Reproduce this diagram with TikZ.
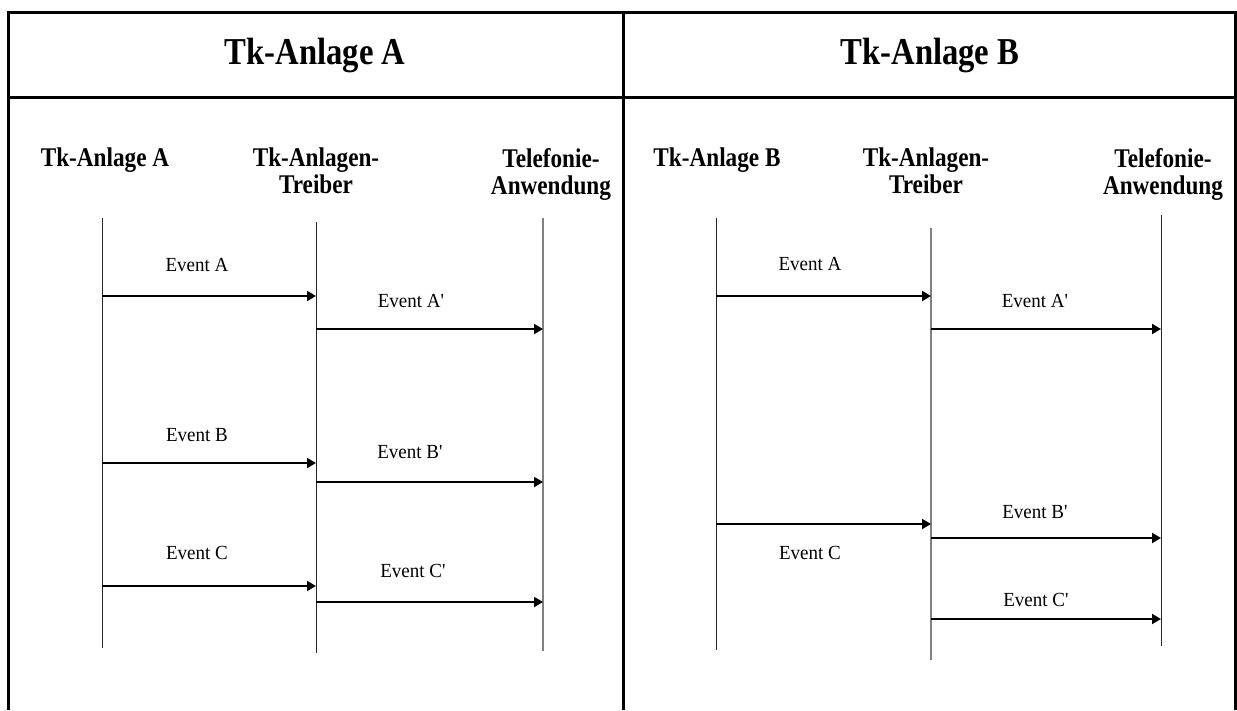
\documentclass[tikz,border=0pt]{standalone}
\usepackage{fontspec}
\setmainfont{Liberation Serif}
\newfontfamily\headfont{Liberation Serif}[FakeStretch=0.86]
\newfontfamily\eventfont{Liberation Serif}[FakeStretch=0.95]
\usetikzlibrary{arrows.meta}

\begin{document}
\begin{tikzpicture}[x=1pt,y=-1pt,
  frame/.style={line width=3pt},
  lifeline/.style={line width=1pt, draw=black!85},
  lifegray/.style={line width=1.8pt, draw=black!50},
  msg/.style={line width=2pt, -{Triangle[length=9pt,width=10pt]}},
  evlabel/.style={font=\eventfont\fontsize{20}{22}\selectfont, inner sep=0pt},
  colhead/.style={font=\headfont\bfseries\fontsize{27}{27}\selectfont, align=center, inner sep=0pt},
  paneltitle/.style={font=\headfont\bfseries\fontsize{38}{40}\selectfont, inner sep=0pt}]

% canvas
\fill[white] (0,0) rectangle (1237,710);
\useasboundingbox (0,0) rectangle (1237,710);

% table frame
\draw[frame] (8,710) -- (8,12) -- (1235,12) -- (1235,710);
\draw[frame] (623,12) -- (623,710);
\draw[frame] (8,97) -- (1235,97);

% panel titles
\node[paneltitle] (titleA) at (315,56) {Tk-Anlage A};
\node[paneltitle] (titleB) at (930,56) {Tk-Anlage B};

% column headers, panel A
\node[colhead, anchor=north] (hA1) at (105,148) {Tk-Anlage A};
\node[colhead, anchor=north] (hA2) at (316,148) {Tk-Anlagen-\\Treiber};
\node[colhead, anchor=north] (hA3) at (551,148) {Telefonie-\\Anwendung};

% column headers, panel B
\node[colhead, anchor=north] (hB1) at (717,148) {Tk-Anlage B};
\node[colhead, anchor=north] (hB2) at (926,148) {Tk-Anlagen-\\Treiber};
\node[colhead, anchor=north] (hB3) at (1163,148) {Telefonie-\\Anwendung};

% lifelines, panel A
\coordinate (A1t) at (102,218); \coordinate (A1b) at (102,648);
\coordinate (A2t) at (316,222); \coordinate (A2b) at (316,653);
\coordinate (A3t) at (543,218); \coordinate (A3b) at (543,651);
\draw[lifeline] (A1t) -- (A1b);
\draw[lifeline] (A2t) -- (A2b);
\draw[lifegray] (A3t) -- (A3b);

% lifelines, panel B
\coordinate (B1t) at (716,218); \coordinate (B1b) at (716,650);
\coordinate (B2t) at (931,228); \coordinate (B2b) at (931,660);
\coordinate (B3t) at (1161,215); \coordinate (B3b) at (1161,646);
\draw[lifeline] (B1t) -- (B1b);
\draw[lifegray] (B2t) -- (B2b);
\draw[lifeline] (B3t) -- (B3b);

% messages, panel A
\coordinate (mA1) at (102,296);
\coordinate (mA2) at (316,329);
\coordinate (mA3) at (102,463);
\coordinate (mA4) at (316,482);
\coordinate (mA5) at (102,586);
\coordinate (mA6) at (316,602);
\draw[msg] (mA1) -- (mA1 -| A2t);
\draw[msg] (mA2) -- (mA2 -| A3t);
\draw[msg] (mA3) -- (mA3 -| A2t);
\draw[msg] (mA4) -- (mA4 -| A3t);
\draw[msg] (mA5) -- (mA5 -| A2t);
\draw[msg] (mA6) -- (mA6 -| A3t);

\node[evlabel] (lA1) at (197,265) {Event A};
\node[evlabel] (lA2) at (411,301) {Event A\textquotesingle};
\node[evlabel] (lA3) at (197,435) {Event B};
\node[evlabel] (lA4) at (410,452) {Event B\textquotesingle};
\node[evlabel] (lA5) at (197,553) {Event C};
\node[evlabel] (lA6) at (413,571) {Event C\textquotesingle};

% messages, panel B
\coordinate (mB1) at (716,296);
\coordinate (mB2) at (931,329);
\coordinate (mB3) at (716,524);
\coordinate (mB4) at (931,538);
\coordinate (mB5) at (931,619);
\draw[msg] (mB1) -- (mB1 -| B2t);
\draw[msg] (mB2) -- (mB2 -| B3t);
\draw[msg] (mB3) -- (mB3 -| B2t);
\draw[msg] (mB4) -- (mB4 -| B3t);
\draw[msg] (mB5) -- (mB5 -| B3t);

\node[evlabel] (lB1) at (810,264) {Event A};
\node[evlabel] (lB2) at (1035,301) {Event A\textquotesingle};
\node[evlabel] (lB4) at (1035,512) {Event B\textquotesingle};
\node[evlabel] (lB5) at (810,553) {Event C};
\node[evlabel] (lB6) at (1036,600) {Event C\textquotesingle};

\end{tikzpicture}
\end{document}
